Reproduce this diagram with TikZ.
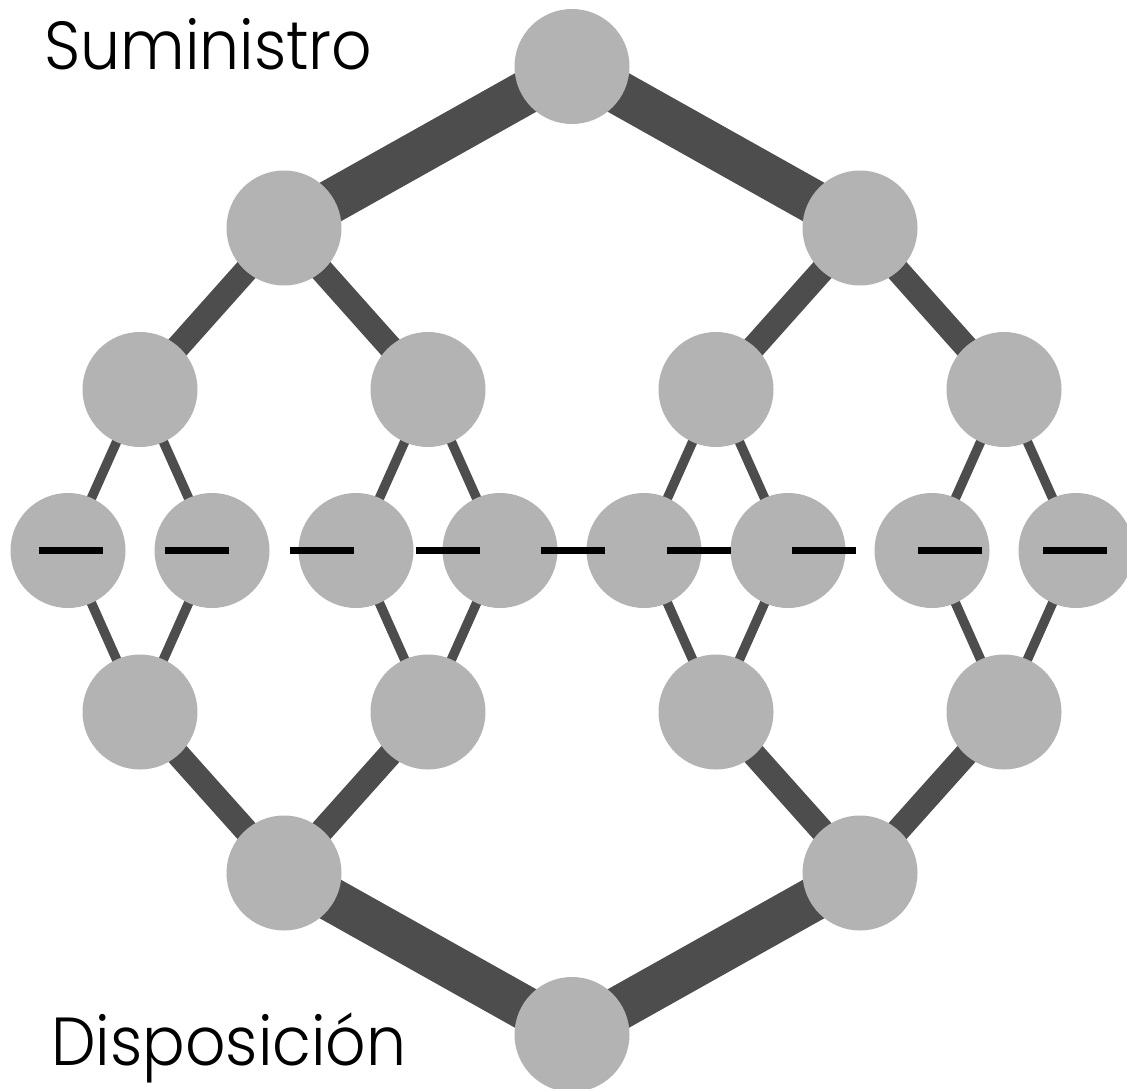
\documentclass[tikz,border=0pt]{standalone}
\usepackage{fontspec}
\IfFontExistsTF{Poppins Light}
  {\newfontfamily\labfont{Poppins Light}[FakeStretch=0.93]}
  {\newfontfamily\labfont{Poppins}[FakeStretch=0.91]}
\usetikzlibrary{backgrounds}
\definecolor{nodegray}{HTML}{B3B3B3}
\definecolor{edgegray}{HTML}{4D4D4D}
\tikzset{
  ball/.style={circle, fill=nodegray, minimum size=115pt, inner sep=0pt, outer sep=0pt},
  thickedge/.style={draw=edgegray, line width=44pt},
  midedge/.style={draw=edgegray, line width=24pt},
  thinedge/.style={draw=edgegray, line width=9.5pt},
  dashline/.style={draw=black, line width=6.3pt, dash pattern=on 64pt off 61.5pt},
  biglabel/.style={font=\labfont\fontsize{68}{82}\selectfont, anchor=base west, inner sep=0pt, text=black},
}
\begin{document}
\begin{tikzpicture}[x=1pt,y=-1pt]
\useasboundingbox (0,0) rectangle (1127,1089);
% nodes
\node[ball] (t) at (572,66.5) {};
\node[ball] (a1) at (284,228) {};
\node[ball] (a2) at (860,228) {};
\node[ball] (b1) at (140,389.5) {};
\node[ball] (b2) at (428,389.5) {};
\node[ball] (b3) at (716,389.5) {};
\node[ball] (b4) at (1004,389.5) {};
\node[ball] (m1) at (68,550.5) {};
\node[ball] (m2) at (212,550.5) {};
\node[ball] (m3) at (356,550.5) {};
\node[ball] (m4) at (500,550.5) {};
\node[ball] (m5) at (644,550.5) {};
\node[ball] (m6) at (788,550.5) {};
\node[ball] (m7) at (932,550.5) {};
\node[ball] (m8) at (1076,550.5) {};
\node[ball] (c1) at (140,712) {};
\node[ball] (c2) at (428,712) {};
\node[ball] (c3) at (716,712) {};
\node[ball] (c4) at (1004,712) {};
\node[ball] (d1) at (284,873) {};
\node[ball] (d2) at (860,873) {};
\node[ball] (u) at (572,1034.5) {};
% edges
\begin{scope}[on background layer]
  \draw[thickedge] (t.center) -- (a1.center);
  \draw[thickedge] (t.center) -- (a2.center);
  \draw[thickedge] (d1.center) -- (u.center);
  \draw[thickedge] (d2.center) -- (u.center);
  \draw[midedge] (a1.center) -- (b1.center);
  \draw[midedge] (a1.center) -- (b2.center);
  \draw[midedge] (a2.center) -- (b3.center);
  \draw[midedge] (a2.center) -- (b4.center);
  \draw[midedge] (c1.center) -- (d1.center);
  \draw[midedge] (c2.center) -- (d1.center);
  \draw[midedge] (c3.center) -- (d2.center);
  \draw[midedge] (c4.center) -- (d2.center);
  \draw[thinedge] (b1.center) -- (m1.center);
  \draw[thinedge] (b1.center) -- (m2.center);
  \draw[thinedge] (b2.center) -- (m3.center);
  \draw[thinedge] (b2.center) -- (m4.center);
  \draw[thinedge] (b3.center) -- (m5.center);
  \draw[thinedge] (b3.center) -- (m6.center);
  \draw[thinedge] (b4.center) -- (m7.center);
  \draw[thinedge] (b4.center) -- (m8.center);
  \draw[thinedge] (m1.center) -- (c1.center);
  \draw[thinedge] (m2.center) -- (c1.center);
  \draw[thinedge] (m3.center) -- (c2.center);
  \draw[thinedge] (m4.center) -- (c2.center);
  \draw[thinedge] (m5.center) -- (c3.center);
  \draw[thinedge] (m6.center) -- (c3.center);
  \draw[thinedge] (m7.center) -- (c4.center);
  \draw[thinedge] (m8.center) -- (c4.center);
\end{scope}
% dashed line across the middle row
\coordinate (dL) at (39,550.5);
\coordinate (dR) at (1107,550.5);
\draw[dashline] (dL) -- (dR);
% labels
\node[biglabel] (sup) at (44,70) {Suministro};
\node[biglabel] (dis) at (51,1065) {Disposición};
\end{tikzpicture}
\end{document}
